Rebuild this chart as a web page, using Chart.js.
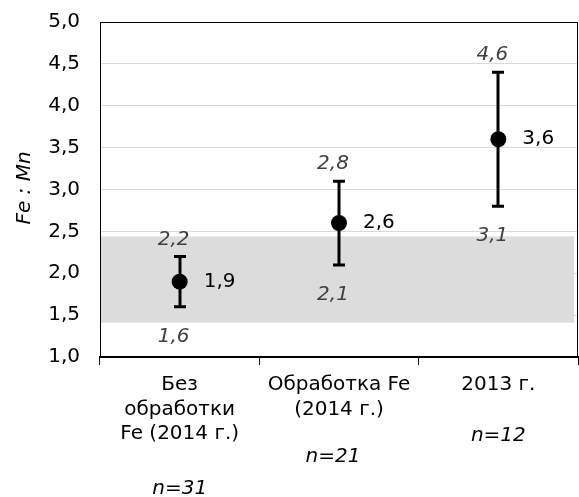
<!DOCTYPE html>
<html>
<head>
<meta charset="utf-8">
<script src="https://cdn.jsdelivr.net/npm/chart.js@4/dist/chart.umd.min.js"></script>
<style>
  html, body { margin: 0; padding: 0; background: #ffffff; }
  #c { display: block; }
</style>
</head>
<body>
<canvas id="c" width="579" height="497"></canvas>
<script>
// Fe : Mn ratio by treatment group
const categories = [
  ['Без', 'обработки', 'Fe (2014 г.)'],
  ['Обработка Fe', '(2014 г.)'],
  ['2013 г.']
];
const means      = [1.9, 2.6, 3.6];
const errLow     = [1.6, 2.1, 2.8];
const errHigh    = [2.2, 3.1, 4.4];
const noteHigh   = ['2,2', '2,8', '4,6'];
const noteLow    = ['1,6', '2,1', '3,1'];
const sampleSize = ['n=31', 'n=21', 'n=12'];
const normBand   = [1.41, 2.44];
const yMin = 1.0, yMax = 5.0, yStep = 0.5;

const FONT = '"DejaVu Sans", "Liberation Sans", Arial, sans-serif';
const SIZE = 20;
const fmt = v => v.toFixed(1).replace('.', ',');

const decorations = {
  id: 'decorations',
  beforeDatasetsDraw(chart) {
    const { ctx, chartArea: a, scales: { x, y } } = chart;
    ctx.save();
    // reference range band
    const yt = y.getPixelForValue(normBand[1]);
    const yb = y.getPixelForValue(normBand[0]);
    ctx.fillStyle = '#dcdcdc';
    ctx.fillRect(a.left + 1, yt, a.right - a.left - 5, yb - yt);
    // error bars
    ctx.strokeStyle = '#000';
    ctx.lineWidth = 3;
    means.forEach((m, i) => {
      const px = Math.round(x.getPixelForValue(i));
      const p1 = y.getPixelForValue(errHigh[i]);
      const p0 = y.getPixelForValue(errLow[i]);
      ctx.beginPath();
      ctx.moveTo(px, p1); ctx.lineTo(px, p0);
      ctx.moveTo(px - 6, p1); ctx.lineTo(px + 6, p1);
      ctx.moveTo(px - 6, p0); ctx.lineTo(px + 6, p0);
      ctx.stroke();
    });
    ctx.restore();
  },
  afterDraw(chart) {
    const { ctx, chartArea: a, scales: { x, y } } = chart;
    ctx.save();
    // frame: top and right edges
    ctx.strokeStyle = '#000';
    ctx.lineWidth = 1;
    ctx.beginPath();
    ctx.moveTo(a.left, Math.round(a.top) + 0.5);
    ctx.lineTo(a.right - 0.5, Math.round(a.top) + 0.5);
    ctx.lineTo(a.right - 0.5, a.bottom);
    ctx.stroke();

    ctx.textBaseline = 'middle';
    means.forEach((m, i) => {
      const px = x.getPixelForValue(i);
      // mean value
      ctx.font = SIZE + 'px ' + FONT;
      ctx.fillStyle = '#000';
      ctx.textAlign = 'left';
      ctx.fillText(fmt(m), px + 24, y.getPixelForValue(m));
      // italic notes above / below the whiskers
      ctx.font = 'italic ' + SIZE + 'px ' + FONT;
      ctx.fillStyle = '#404040';
      ctx.textAlign = 'center';
      ctx.fillText(noteHigh[i], px - 6, y.getPixelForValue(errHigh[i]) - 17);
      ctx.fillText(noteLow[i], px - 6, y.getPixelForValue(errLow[i]) + 30);
    });

    // sample sizes under the category labels
    const nOffset = [132, 100, 79];
    const nShift = [0, -6, 0];
    ctx.font = 'italic ' + SIZE + 'px ' + FONT;
    ctx.fillStyle = '#000';
    ctx.textAlign = 'center';
    sampleSize.forEach((s, i) => {
      ctx.fillText(s, x.getPixelForValue(i) + nShift[i], a.bottom + nOffset[i]);
    });

    // y axis title
    ctx.translate(25, 188);
    ctx.rotate(-Math.PI / 2);
    ctx.font = 'italic ' + SIZE + 'px ' + FONT;
    ctx.fillStyle = '#000';
    ctx.fillText('Fe : Mn', 0, 0);
    ctx.restore();
  }
};

new Chart(document.getElementById('c'), {
  type: 'line',
  data: {
    labels: categories,
    datasets: [{
      data: means,
      showLine: false,
      pointRadius: 8,
      pointHoverRadius: 8,
      pointBackgroundColor: '#000',
      pointBorderWidth: 0
    }]
  },
  options: {
    responsive: false,
    animation: false,
    events: [],
    layout: { autoPadding: false, padding: { top: 22, right: 1, left: 0, bottom: 0 } },
    plugins: { legend: { display: false }, tooltip: { enabled: false } },
    scales: {
      x: {
        type: 'category',
        offset: true,
        grid: {
          offset: true,
          drawOnChartArea: false,
          drawTicks: true,
          tickLength: 8,
          color: '#000',
          lineWidth: 1
        },
        border: { color: '#000', width: 2 },
        ticks: {
          color: '#000',
          padding: 8,
          maxRotation: 0,
          autoSkip: false,
          font: { family: FONT, size: SIZE, lineHeight: 1.22 }
        },
        afterFit(scale) { scale.height = 140; }
      },
      y: {
        min: yMin,
        max: yMax,
        grid: { color: '#d9d9d9', lineWidth: 1, drawTicks: false },
        border: { color: '#000', width: 1 },
        ticks: {
          stepSize: yStep,
          color: '#000',
          padding: 20,
          font: { family: FONT, size: SIZE },
          callback: v => fmt(v)
        },
        afterFit(scale) {
          scale.width = 100;
          scale.paddingTop = 0;
          scale.paddingBottom = 0;
        }
      }
    }
  },
  plugins: [decorations]
});
</script>
</body>
</html>
